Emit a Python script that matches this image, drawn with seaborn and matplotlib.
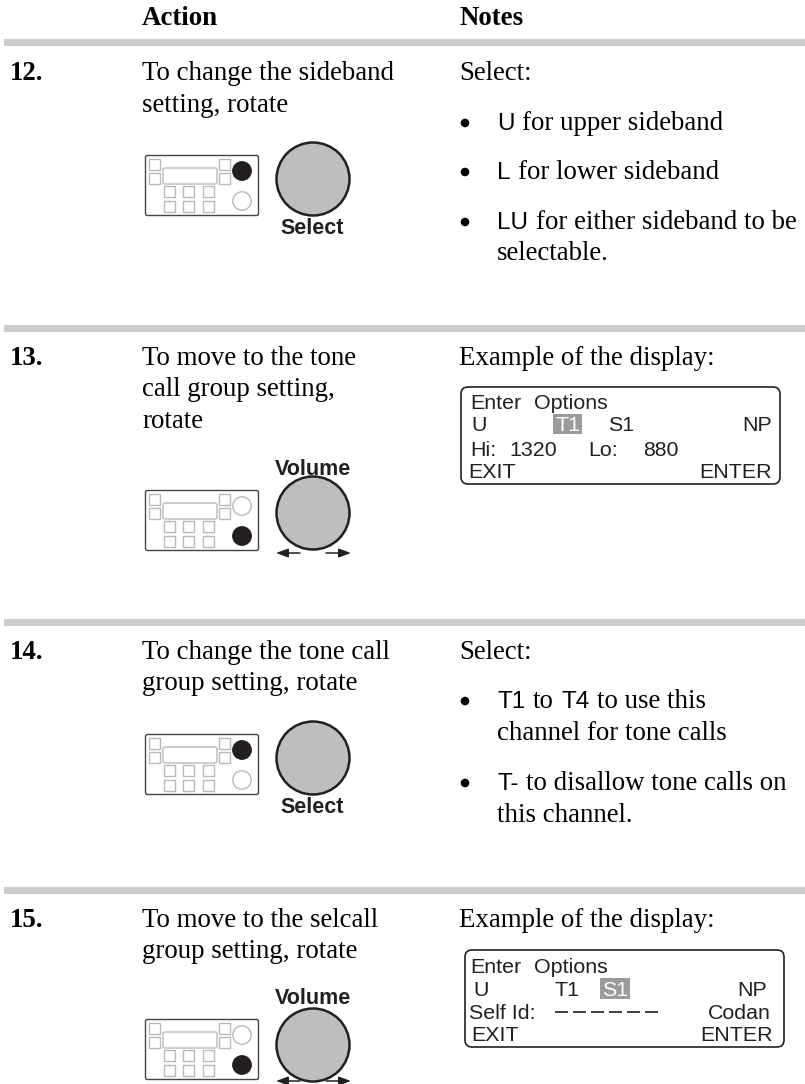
import matplotlib
matplotlib.use("Agg")
import matplotlib.pyplot as plt
import seaborn as sns
from matplotlib.patches import Rectangle, Circle, FancyBboxPatch

sns.set_theme(style="white")
plt.rcParams['font.family'] = ['Liberation Serif', 'DejaVu Sans']

headers = ["Action", "Notes"]
step_numbers = ["12.", "13.", "14.", "15."]
action_lines = [
    ["To change the sideband", "setting, rotate"],
    ["To move to the tone", "call group setting,", "rotate"],
    ["To change the tone call", "group setting, rotate"],
    ["To move to the selcall", "group setting, rotate"],
]
knob_names = ["Select", "Volume", "Select", "Volume"]
display_rows_13 = ["Enter", "Options", "Hi:", "1320", "Lo:", "880", "EXIT", "ENTER", "U", "T1", "S1", "NP"]
display_rows_15 = ["Enter", "Options", "Self Id:", "Codan", "EXIT", "ENTER", "U", "T1", "S1", "NP"]

W, H = 805, 1084
fig = plt.figure(figsize=(W/100, H/100), dpi=100, facecolor='white')
ax = fig.add_axes([0, 0, 1, 1])
ax.set_xlim(0, W); ax.set_ylim(H, 0); ax.axis('off')

DARK = '#231f20'
SANS = ['Liberation Sans', 'DejaVu Sans']
SERIF = ['Liberation Serif', 'DejaVu Sans']
FS = 19.4
DS = 15.4

def t(x, y, s, fam=SERIF, size=FS, w='normal', ha='left', c='black', z=5):
    return ax.text(x, y, s, family=fam, fontsize=size, fontweight=w, ha=ha, va='baseline', color=c, zorder=z)

def rich(x, y, parts, gap=7.5):
    """Runs of (text, sans?) laid out one after another."""
    r = fig.canvas.get_renderer()
    for s, sans in parts:
        tx = t(x, y, s, fam=SANS if sans else SERIF, size=17.5 if sans else FS)
        x += tx.get_window_extent(r).width + gap

def band(y):
    ax.add_patch(Rectangle((4, y), 801, 7, fc='#cccccc', ec='none'))

def device(x, y, dark_top):
    L = '#b8b9bb'
    ax.add_patch(FancyBboxPatch((x+0.5, y+0.5), 113, 60, boxstyle='round,pad=0,rounding_size=2',
                                fc='white', ec='#444446', lw=1.0))
    for dy in (4, 18):
        ax.add_patch(Rectangle((x+3.5, y+dy), 11, 11, fc='white', ec=L, lw=1.0))
        ax.add_patch(Rectangle((x+74, y+dy), 11, 11, fc='white', ec=L, lw=1.0))
    ax.add_patch(FancyBboxPatch((x+18, y+13), 54, 16, boxstyle='round,pad=0,rounding_size=2',
                                fc='white', ec=L, lw=1.0))
    for dx in (19, 38, 58):
        for dy in (31, 46):
            ax.add_patch(Rectangle((x+dx, y+dy), 11, 11, fc='white', ec=L, lw=1.0))
    top, bot = (DARK, 'white') if dark_top else ('white', DARK)
    ax.add_patch(Circle((x+97, y+16), 9.2, fc=top, ec=DARK if dark_top else L, lw=1.0))
    ax.add_patch(Circle((x+97, y+46), 9.2, fc=bot, ec=L if dark_top else DARK, lw=1.0))

def knob(cy, name, label_y, arrows=None):
    ax.add_patch(Circle((313, cy), 36.5, fc='#bcbec0', ec=DARK, lw=1.8, zorder=3))
    t(312.5, label_y, name, fam=SANS, size=15.5, w='bold', ha='center', c=DARK)
    if arrows is not None:
        for x0, x1 in ((300, 276), (326, 351)):
            ax.annotate('', xy=(x1, arrows), xytext=(x0, arrows), zorder=4,
                        arrowprops=dict(arrowstyle='-|>,head_width=0.22,head_length=0.6',
                                        color=DARK, lw=1.1, shrinkA=0, shrinkB=0))

def bullet(y):
    ax.add_patch(Circle((465, y), 4.3, fc='black', ec='none'))

def box(x0, y0, x1, y1):
    ax.add_patch(FancyBboxPatch((x0, y0), x1-x0, y1-y0, boxstyle='round,pad=0,rounding_size=7',
                                fc='white', ec=DARK, lw=1.2, zorder=1))

def d(x, y, s, ha='left', c=DARK):
    t(x, y, s, fam=SANS, size=DS, ha=ha, c=c)

# header
t(142, 25, headers[0], w='bold')
t(459, 25, headers[1], w='bold')

# rows
band_y = [39, 325, 619, 887]
row_text_y = [80, 365, 659, 927]
LS = 31.5
for by in band_y:
    band(by)
for n, lines, y in zip(step_numbers, action_lines, row_text_y):
    t(10, y, n, w='bold')
    for i, s in enumerate(lines):
        t(142, y + i*LS, s)

# row widgets
device(145, 155, True);   knob(179, knob_names[0], 234)
device(145, 490, False);  knob(513, knob_names[1], 475, arrows=553)
device(145, 734, True);   knob(758, knob_names[2], 813)
device(145, 1019, False); knob(1045, knob_names[3], 1004, arrows=1081)

# notes 12
t(459, 80, "Select:")
for y in (123, 172, 222):
    bullet(y)
rich(497, 130, [("U", True), ("for upper sideband", False)])
rich(497, 179, [("L", True), ("for lower sideband", False)])
rich(497, 229, [("LU", True), ("for either sideband to be", False)])
t(497, 260.5, "selectable.")

# notes 13
t(459, 365, "Example of the display:")
box(461, 387, 780, 484)
ax.add_patch(Rectangle((553, 414), 29, 20, fc='#9a9b9d', ec='none', zorder=2))
Y = [409, 431, 456, 478]
r = display_rows_13
d(470, Y[0], r[0]); d(534, Y[0], r[1])
d(471, Y[1], r[8])
d(567.5, Y[1], r[9], ha='center', c='white')
d(608, Y[1], r[10])
d(772, Y[1], r[11], ha='right')
d(470, Y[2], r[2]); d(509, Y[2], r[3]); d(588, Y[2], r[4]); d(643, Y[2], r[5])
d(468, Y[3], r[6])
d(772, Y[3], r[7], ha='right')

# notes 14
t(459, 659, "Select:")
bullet(701); bullet(783)
rich(497, 708, [("T1", True), ("to", False), ("T4", True), ("to use this", False)])
t(497, 740, "channel for tone calls")
rich(497, 790, [("T-", True), ("to disallow tone calls on", False)])
t(497, 821.5, "this channel.")

# notes 15
t(459, 927, "Example of the display:")
box(465, 950, 784, 1047)
ax.add_patch(Rectangle((600, 978), 30, 21, fc='#9a9b9d', ec='none', zorder=2))
Y = [973, 996, 1019, 1041]
r = display_rows_15
d(470, Y[0], r[0]); d(534, Y[0], r[1])
d(473, Y[1], r[6])
d(554, Y[1], r[7])
d(615, Y[1], r[8], ha='center', c='white')
d(767, Y[1], r[9], ha='right')
d(469, Y[2], r[2])
d(771, Y[2], r[3], ha='right')
d(471, Y[3], r[4])
d(773, Y[3], r[5], ha='right')
for x in (555, 573, 591, 609, 627, 645):
    ax.plot([x, x+13], [1012, 1012], color=DARK, lw=1.2, solid_capstyle='butt', zorder=5)

fig.savefig('out.png', dpi=100, facecolor='white')
